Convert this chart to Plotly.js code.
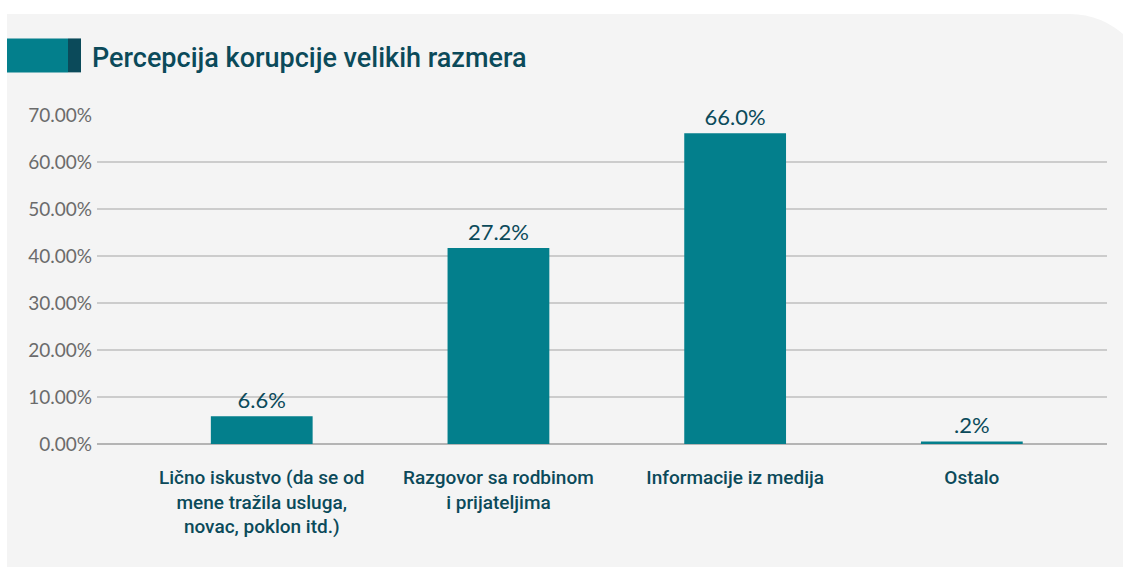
<!DOCTYPE html>
<html>
<head>
<meta charset="utf-8">
<script src="https://cdn.plot.ly/plotly-3.0.1.min.js"></script>
<style>
  html, body { margin: 0; padding: 0; background: #ffffff; overflow: hidden; }
  #wrap { position: relative; width: 1123px; height: 567px; overflow: hidden; }
  #panel { position: absolute; left: 7px; top: 14px; width: 1143px; height: 600px;
           background: #f4f4f4; border-top-right-radius: 80px; }
  #chart { position: absolute; left: 0; top: 0; width: 1123px; height: 567px; }
</style>
</head>
<body>
<div id="wrap">
  <div id="panel"></div>
  <div id="chart"></div>
</div>
<script>
// Data
const categories = [
  "Lično iskustvo (da se od<br>mene tražila usluga,<br>novac, poklon itd.)",
  "Razgovor sa rodbinom<br>i prijateljima",
  "Informacije iz medija",
  "Ostalo"
];
const barHeights = [5.9, 41.7, 66.1, 0.55];   // bar heights as drawn (in %)
const barLabels = ["6.6%", "27.2%", "66.0%", ".2%"]; // printed labels
const yTicks = [0, 10, 20, 30, 40, 50, 60, 70];
const yTickText = ["0.00%", "10.00%", "20.00%", "30.00%", "40.00%", "50.00%", "60.00%", "70.00%"];

const teal = "#037f8c";
const darkTeal = "#0b4a5a";

const trace = {
  type: "bar",
  x: categories,
  y: barHeights,
  text: barLabels,
  textposition: "outside",
  cliponaxis: false,
  textfont: { family: "Lato, sans-serif", size: 22, color: darkTeal },
  marker: { color: teal },
  width: 0.43,
  hoverinfo: "skip"
};

const layout = {
  width: 1123,
  height: 567,
  margin: { l: 97, r: 16, t: 115, b: 123 },
  paper_bgcolor: "rgba(0,0,0,0)",
  plot_bgcolor: "rgba(0,0,0,0)",
  showlegend: false,
  title: {
    text: "Percepcija korupcije velikih razmera",
    font: { family: "Roboto, sans-serif", size: 27, weight: 500, color: darkTeal },
    xref: "container", yref: "container",
    x: 92 / 1123, xanchor: "left",
    y: 1 - 58 / 567, yanchor: "middle"
  },
  xaxis: {
    type: "category",
    range: [-0.696, 3.571],
    showgrid: false,
    zeroline: false,
    showline: false,
    ticks: "",
    ticklabelstandoff: 20,
    tickfont: { family: "Roboto, sans-serif", size: 19, weight: 500, color: darkTeal }
  },
  yaxis: {
    range: [0, 70],
    tickvals: yTicks,
    ticktext: yTickText,
    showgrid: true,
    gridcolor: "#cccccc",
    gridwidth: 1.5,
    zeroline: true,
    zerolinecolor: "#b4b4b4",
    zerolinewidth: 1.5,
    showline: false,
    ticks: "",
    ticklabelstandoff: 4,
    tickfont: { family: "Lato, sans-serif", size: 19, color: "#6b6b6b" }
  },
  shapes: [
    { type: "rect", xref: "paper", yref: "paper",
      x0: (7 - 97) / 1010, x1: (68 - 97) / 1010,
      y0: (444.3 - 72) / 329.6, y1: (444.3 - 38) / 329.6,
      fillcolor: teal, line: { width: 0 } },
    { type: "rect", xref: "paper", yref: "paper",
      x0: (68 - 97) / 1010, x1: (81 - 97) / 1010,
      y0: (444.3 - 72) / 329.6, y1: (444.3 - 38) / 329.6,
      fillcolor: darkTeal, line: { width: 0 } }
  ]
};

Plotly.newPlot("chart", [trace], layout, { displayModeBar: false, staticPlot: true });
</script>
</body>
</html>
